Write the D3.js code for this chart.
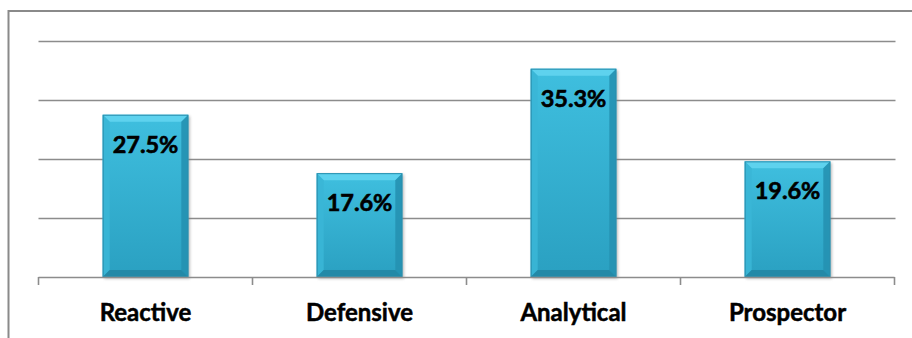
<!DOCTYPE html>
<html>
<head>
<meta charset="utf-8">
<script src="https://cdn.jsdelivr.net/npm/d3@7"></script>
<style>
  html, body { margin: 0; padding: 0; background: #fff; }
  svg { display: block; }
</style>
</head>
<body>
<svg id="chart" width="912" height="338"></svg>
<script>
// Strategy types and the share of firms in each
const categories = ["Reactive", "Defensive", "Analytical", "Prospector"];
const shares = [27.5, 17.6, 35.3, 19.6];
const gridTicks = [0, 10, 20, 30, 40];

const svg = d3.select("#chart");
const W = 912, H = 338;
const plot = { left: 38.5, right: 894.5, top: 41, bottom: 277 };

const x = d3.scaleBand()
  .domain(categories)
  .range([plot.left, plot.right])
  .paddingInner(0.6)
  .paddingOuter(0.3);

const y = d3.scaleLinear()
  .domain([0, 40])
  .range([plot.bottom, plot.top]);

const defs = svg.append("defs");

const face = defs.append("linearGradient")
  .attr("id", "barFace").attr("x1", 0).attr("y1", 0).attr("x2", 0).attr("y2", 1);
face.append("stop").attr("offset", "0%").attr("stop-color", "#3fbfdf");
face.append("stop").attr("offset", "100%").attr("stop-color", "#2aa0c1");

const shadow = defs.append("filter").attr("id", "shadow")
  .attr("x", "-20%").attr("y", "-20%").attr("width", "140%").attr("height", "140%");
shadow.append("feGaussianBlur").attr("stdDeviation", 1.6);

// Chart frame
svg.append("rect")
  .attr("x", 8.5).attr("y", 11)
  .attr("width", W + 20).attr("height", H + 20)
  .attr("fill", "none")
  .attr("stroke", "#8a8a8a")
  .attr("stroke-width", 2);

// Horizontal gridlines
svg.append("g")
  .selectAll("line")
  .data(gridTicks.filter(d => d > 0))
  .join("line")
  .attr("x1", plot.left).attr("x2", plot.right + 1)
  .attr("y1", d => Math.round(y(d)) + 0.5)
  .attr("y2", d => Math.round(y(d)) + 0.5)
  .attr("stroke", "#8c8c8c")
  .attr("stroke-width", 1.6);

// Bars
const bevel = 7;
const bars = svg.append("g")
  .selectAll("g")
  .data(categories.map((c, i) => ({ c, v: shares[i] })))
  .join("g");

bars.append("rect")
  .attr("x", d => x(d.c) + 1.5)
  .attr("y", d => y(d.v) + 1.5)
  .attr("width", x.bandwidth())
  .attr("height", d => y(0) - y(d.v))
  .attr("fill", "#7a7a7a")
  .attr("opacity", 0.55)
  .attr("filter", "url(#shadow)");

bars.append("rect")
  .attr("x", d => x(d.c))
  .attr("y", d => y(d.v))
  .attr("width", x.bandwidth())
  .attr("height", d => y(0) - y(d.v))
  .attr("fill", "url(#barFace)");

function bevelPath(d, side) {
  const x0 = x(d.c), x1 = x0 + x.bandwidth();
  const y0 = y(d.v), y1 = y(0);
  const b = bevel;
  const pts = {
    top: [[x0, y0], [x1, y0], [x1 - b, y0 + b], [x0 + b, y0 + b]],
    left: [[x0, y0], [x0 + b, y0 + b], [x0 + b, y1 - b], [x0, y1]],
    right: [[x1, y0], [x1, y1], [x1 - b, y1 - b], [x1 - b, y0 + b]],
    bottom: [[x0, y1], [x0 + b, y1 - b], [x1 - b, y1 - b], [x1, y1]]
  }[side];
  return d3.line()(pts) + "Z";
}

const bevelFill = { top: "#62d4ef", left: "#3ab6d6", right: "#2591b1", bottom: "#2286a4" };
["top", "left", "right", "bottom"].forEach(side => {
  bars.append("path")
    .attr("d", d => bevelPath(d, side))
    .attr("fill", bevelFill[side])
    .attr("opacity", 0.9);
});

bars.append("rect")
  .attr("x", d => x(d.c) + 0.5)
  .attr("y", d => y(d.v) + 0.5)
  .attr("width", x.bandwidth() - 1)
  .attr("height", d => y(0) - y(d.v) - 1)
  .attr("fill", "none")
  .attr("stroke", "#2a8fae")
  .attr("stroke-width", 1);

// Value labels inside the bars
bars.append("text")
  .attr("x", d => x(d.c) + x.bandwidth() / 2)
  .attr("y", d => y(d.v) + 38)
  .attr("text-anchor", "middle")
  .attr("font-family", "Lato, 'Open Sans', sans-serif")
  .attr("font-weight", 700)
  .attr("font-size", 23.5)
  .attr("fill", "#000")
  .attr("stroke", "#000")
  .attr("stroke-width", 0.6)
  .text(d => d.v.toFixed(1) + "%");

// Category axis
const xAxis = svg.append("g");
xAxis.append("line")
  .attr("x1", plot.left).attr("x2", plot.right)
  .attr("y1", plot.bottom + 0.5).attr("y2", plot.bottom + 0.5)
  .attr("stroke", "#8c8c8c").attr("stroke-width", 1.6);

const step = x.step();
const boundaries = d3.range(categories.length + 1).map(i => plot.left + i * step);
xAxis.selectAll("line.tick")
  .data(boundaries)
  .join("line")
  .attr("class", "tick")
  .attr("x1", d => d).attr("x2", d => d)
  .attr("y1", plot.bottom).attr("y2", plot.bottom + 8)
  .attr("stroke", "#8c8c8c").attr("stroke-width", 1.6);

xAxis.selectAll("text")
  .data(categories)
  .join("text")
  .attr("x", d => x(d) + x.bandwidth() / 2)
  .attr("y", 321)
  .attr("text-anchor", "middle")
  .attr("font-family", "Lato, 'Open Sans', sans-serif")
  .attr("font-weight", 700)
  .attr("font-size", 24)
  .attr("fill", "#000")
  .attr("stroke", "#000")
  .attr("stroke-width", 0.5)
  .text(d => d);
</script>
</body>
</html>
